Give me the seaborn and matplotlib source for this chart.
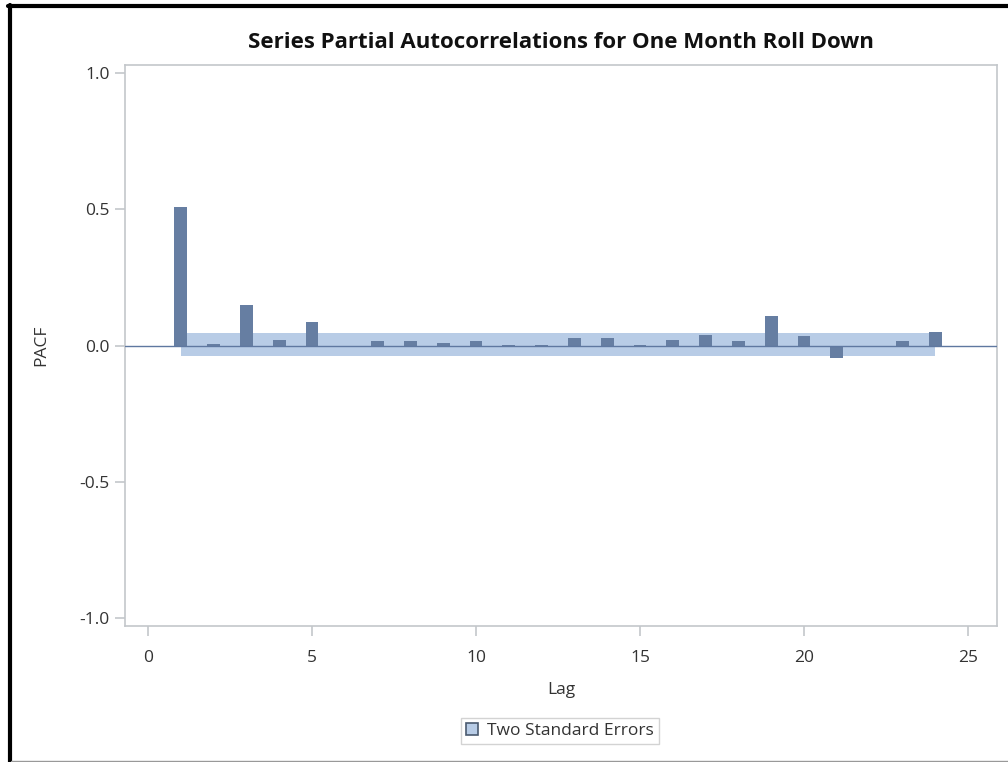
import numpy as np
import pandas as pd
import matplotlib
matplotlib.use("Agg")
import matplotlib.pyplot as plt
import seaborn as sns
from matplotlib.patches import Patch
from matplotlib.lines import Line2D

# PACF values
lags = list(range(1, 25))
pacf = [0.51, 0.004, 0.148, 0.021, 0.086, -0.005, 0.015, 0.015, 0.011, 0.015,
        0.003, 0.003, 0.028, 0.028, 0.003, 0.022, 0.039, 0.017, 0.107, 0.034,
        -0.045, -0.004, 0.017, 0.049]
band_upper = [0.047] * 24
band_lower = [-0.037] * 24

xticks = [0, 5, 10, 15, 20, 25]
yticks = [-1.0, -0.5, 0.0, 0.5, 1.0]

bar_color = "#667ea2"
band_color = "#b8cce6"
grid_gray = "#c3c7cb"
text_color = "#333333"

sns.set_style("white")
plt.rcParams["font.family"] = ["Open Sans", "DejaVu Sans"]

df = pd.DataFrame({"Lag": lags, "PACF": pacf})

fig = plt.figure(figsize=(10.08, 7.62), dpi=100)
ax = fig.add_axes([0.124, 0.1785, 0.865, 0.736])

# confidence band
ax.fill_between(lags, band_lower, band_upper, color=band_color, lw=0, zorder=1)

# bars drawn as a numeric-x bar plot
sns.barplot(data=df, x="Lag", y="PACF", native_scale=True, width=0.39,
            color=bar_color, saturation=1, ax=ax, zorder=2, linewidth=0)

ax.axhline(0, color="#5f78a0", lw=1.0, zorder=3)

ax.set_xlim(-0.70, 25.88)
ax.set_ylim(-1.03, 1.03)
ax.set_xticks(xticks)
ax.set_xticklabels([str(t) for t in xticks])
ax.set_yticks(yticks)
ax.set_yticklabels([f"{t:.1f}" for t in yticks])

for s in ax.spines.values():
    s.set_color(grid_gray)
    s.set_linewidth(1.2)
ax.tick_params(axis="both", direction="out", length=7, width=1.2, color=grid_gray,
               labelsize=12.5, labelcolor=text_color, bottom=True, left=True)
ax.tick_params(axis="x", pad=10)
ax.tick_params(axis="y", pad=4)

ax.set_xlabel("Lag", fontsize=12.5, color=text_color, labelpad=12)
ax.set_ylabel("PACF", fontsize=12.5, color=text_color, labelpad=22)
ax.set_title("Series Partial Autocorrelations for One Month Roll Down",
             fontsize=16, fontweight="bold", color="#111111", pad=12)

handle = Patch(facecolor=band_color, edgecolor="#4a5a70", linewidth=1.2)
fig.legend([handle], ["Two Standard Errors"], loc="center",
           bbox_to_anchor=(560 / 1008, 1 - 731 / 762), frameon=True,
           fancybox=False, edgecolor="#c8c8c8", fontsize=12.5,
           handlelength=0.7, handleheight=0.7, handletextpad=0.5,
           borderpad=0.3, labelcolor=text_color)

# outer frame of the screenshot
fig.add_artist(Line2D([9.5 / 1008, 9.5 / 1008], [0, 1 - 5 / 762], color="black", lw=3,
                      transform=fig.transFigure))
fig.add_artist(Line2D([8 / 1008, 1], [1 - 6 / 762, 1 - 6 / 762], color="black", lw=3,
                      transform=fig.transFigure))
fig.add_artist(Line2D([11 / 1008, 1], [1.5 / 762, 1.5 / 762], color="#999999", lw=1,
                      transform=fig.transFigure))

fig.savefig("out.png", dpi=100)
